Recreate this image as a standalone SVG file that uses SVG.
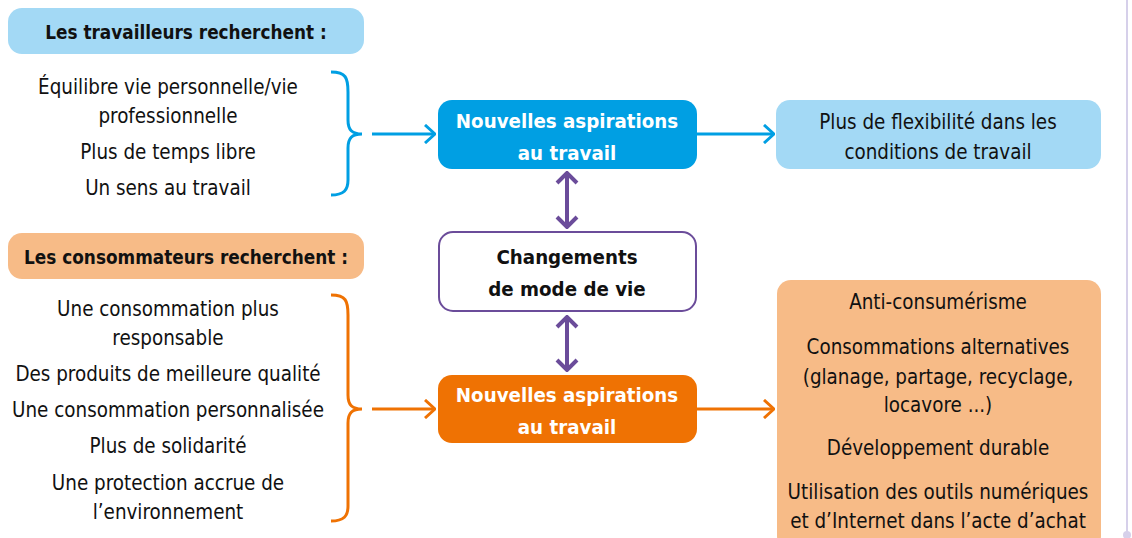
<svg xmlns="http://www.w3.org/2000/svg" width="1132" height="538" viewBox="0 0 1132 538">
<defs>
<style>
text{font-family:"Liberation Sans Narrow","DejaVu Sans Condensed","Liberation Sans",sans-serif;font-size:20.4px;text-anchor:middle;fill:#111}
.b{font-weight:bold;font-size:18.8px}
.w{fill:#fff;font-weight:bold;font-size:20.3px}
.k{font-weight:bold;font-size:20.3px}
.bl{fill:none;stroke:#009fe3;stroke-width:3}
.or{fill:none;stroke:#ef7203;stroke-width:3}
.pu{fill:none;stroke:#6b4c9a;stroke-width:4}
</style>
<marker id="ab" viewBox="0 0 12 20" refX="11" refY="10" markerWidth="12" markerHeight="20" markerUnits="userSpaceOnUse" orient="auto"><path d="M1,1 L11,10 L1,19" fill="none" stroke="#009fe3" stroke-width="3"/></marker>
<marker id="ao" viewBox="0 0 12 20" refX="11" refY="10" markerWidth="12" markerHeight="20" markerUnits="userSpaceOnUse" orient="auto"><path d="M1,1 L11,10 L1,19" fill="none" stroke="#ef7203" stroke-width="3"/></marker>
<marker id="ap" viewBox="0 0 14 24" refX="12" refY="12" markerWidth="14" markerHeight="24" markerUnits="userSpaceOnUse" orient="auto-start-reverse"><path d="M2,2 L12,12 L2,22" fill="none" stroke="#6b4c9a" stroke-width="4"/></marker>
</defs>
<rect width="1132" height="538" fill="#fff"/>
<g id="side-line"><line x1="1127" y1="0" x2="1127" y2="533" stroke="#d6d0ea" stroke-width="2"/><circle cx="1127" cy="535" r="4" fill="#d6d0ea"/></g>

<g id="workers-header"><rect x="8" y="8" width="356" height="46" rx="14" fill="#a3d9f5"/><text class="b" x="186" y="39">Les travailleurs recherchent :</text></g>
<g id="workers-list">
<text x="168" y="94">Équilibre vie personnelle/vie</text>
<text x="168" y="123">professionnelle</text>
<text x="168" y="159">Plus de temps libre</text>
<text x="168" y="195">Un sens au travail</text>
</g>
<g id="work-aspirations"><rect x="438" y="100" width="259" height="69" rx="14" fill="#009fe3"/><text class="w" x="567" y="128">Nouvelles aspirations</text><text class="w" x="567" y="160">au travail</text></g>
<g id="flexibility"><rect x="776" y="100" width="325" height="69" rx="14" fill="#a3d9f5"/><text x="938" y="129">Plus de flexibilité dans les</text><text x="938" y="159">conditions de travail</text></g>
<g id="lifestyle"><rect x="439" y="232" width="257" height="79" rx="14" fill="#fff" stroke="#6b4c9a" stroke-width="2"/><text class="k" x="567" y="264">Changements</text><text class="k" x="567" y="296">de mode de vie</text></g>
<g id="consumers-header"><rect x="8" y="233" width="356" height="46" rx="14" fill="#f7bb87"/><text class="b" x="186" y="264">Les consommateurs recherchent :</text></g>
<g id="consumers-list">
<text x="168" y="316">Une consommation plus</text>
<text x="168" y="345">responsable</text>
<text x="168" y="381">Des produits de meilleure qualité</text>
<text x="168" y="417">Une consommation personnalisée</text>
<text x="168" y="453">Plus de solidarité</text>
<text x="168" y="490">Une protection accrue de</text>
<text x="168" y="519">l’environnement</text>
</g>
<g id="consumer-aspirations"><rect x="438" y="375" width="259" height="68" rx="14" fill="#ef7203"/><text class="w" x="567" y="402">Nouvelles aspirations</text><text class="w" x="567" y="434">au travail</text></g>
<g id="consumer-outcomes"><rect x="777" y="280" width="324" height="270" rx="14" fill="#f7bb87"/>
<text x="938" y="309">Anti-consumérisme</text>
<text x="938" y="354">Consommations alternatives</text>
<text x="938" y="384">(glanage, partage, recyclage,</text>
<text x="938" y="412">locavore ...)</text>
<text x="938" y="455">Développement durable</text>
<text x="938" y="499">Utilisation des outils numériques</text>
<text x="938" y="528">et d’Internet dans l’acte d’achat</text>
</g>

<g id="connectors">
<path class="bl" d="M331,72 C346,72 348,78 348,92 L348,120 C348,130 352,134 362,134 C352,134 348,138 348,148 L348,180 C348,190 344,195 331,195"/>
<path class="or" d="M331,295 C346,295 348,301 348,315 L348,395 C348,405 352,409 362,409 C352,409 348,413 348,423 L348,506 C348,516 344,521 331,521"/>
<line class="bl" x1="372" y1="134" x2="435" y2="134" marker-end="url(#ab)"/>
<line class="bl" x1="697" y1="134" x2="774" y2="134" marker-end="url(#ab)"/>
<line class="or" x1="372" y1="409" x2="435" y2="409" marker-end="url(#ao)"/>
<line class="or" x1="697" y1="409" x2="774" y2="409" marker-end="url(#ao)"/>
<line class="pu" x1="567" y1="173" x2="567" y2="227" marker-start="url(#ap)" marker-end="url(#ap)"/>
<line class="pu" x1="567" y1="317" x2="567" y2="370" marker-start="url(#ap)" marker-end="url(#ap)"/>
</g>
</svg>
